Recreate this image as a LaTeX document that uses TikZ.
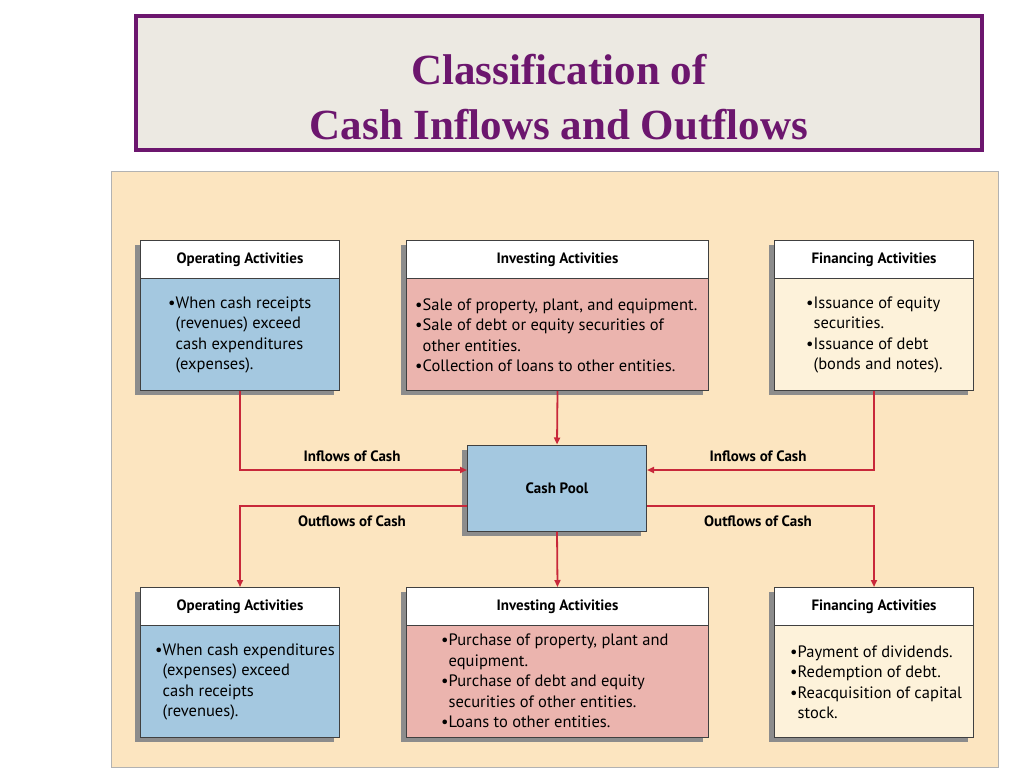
\documentclass[tikz,border=0pt]{standalone}
\usepackage{fontspec}
\setmainfont{Liberation Serif}
\newfontfamily\boxfont{PT Sans}
\usetikzlibrary{arrows.meta,calc}
\definecolor{titlePurple}{RGB}{108,22,110}
\definecolor{titleFill}{RGB}{236,233,226}
\definecolor{panelFill}{RGB}{252,229,192}
\definecolor{opBlue}{RGB}{164,200,224}
\definecolor{invPink}{RGB}{235,180,174}
\definecolor{finCream}{RGB}{253,242,218}
\definecolor{flowRed}{RGB}{200,40,58}
\tikzset{
    >={Triangle[length=7pt,width=6pt]},
    box/.style={draw=black!75,line width=1pt,inner sep=0pt},
    head/.style={font=\boxfont\bfseries\fontsize{15}{18}\selectfont},
    body/.style={anchor=west,align=left,inner sep=0pt,font=\boxfont\fontsize{16.5}{20.5}\selectfont},
    flow/.style={draw=flowRed,line width=1.8pt,->},
    flowlabel/.style={font=\boxfont\bfseries\fontsize{15}{18}\selectfont}
}
% activity box: name, x1, y1, x2, y2, header bottom, body fill, title
\newcommand{\actbox}[8]{
  \fill[black!45] (#2-5,#3+5) rectangle (#4-5,#5+5);
  \node[box,fill=white,minimum width=#4-#2,minimum height=#6-#3,anchor=north west] (#1h) at (#2,#3) {};
  \node[box,fill=#7,minimum width=#4-#2,minimum height=#5-#6,anchor=north west] (#1) at (#2,#6) {};
  \node[head] at (#1h) {#8};
}
\begin{document}
\begin{tikzpicture}[x=1pt,y=-1pt]
  \useasboundingbox (0,0) rectangle (1024,768);
  % title
  \node[draw=titlePurple,line width=4pt,fill=titleFill,minimum width=846pt,minimum height=134pt] (title) at (559,83) {};
  \node[text=titlePurple,font=\bfseries\fontsize{43}{55}\selectfont,align=center] at (559,97) {Classification of\\Cash Inflows and Outflows};
  % panel
  \node[draw=black!30,fill=panelFill,minimum width=887pt,minimum height=596pt,inner sep=0pt] (panel) at (554.5,469) {};

  \actbox{opT}{140}{240}{339}{390}{278}{opBlue}{Operating Activities}
  \actbox{invT}{406}{240}{708}{390}{278}{invPink}{Investing Activities}
  \actbox{finT}{774}{240}{973}{390}{278}{finCream}{Financing Activities}
  \actbox{opB}{140}{587}{339}{737}{625}{opBlue}{Operating Activities}
  \actbox{invB}{406}{587}{708}{737}{625}{invPink}{Investing Activities}
  \actbox{finB}{774}{587}{973}{737}{625}{finCream}{Financing Activities}

  \fill[black!45] (462,450) rectangle (641,536);
  \node[box,fill=opBlue,minimum width=179pt,minimum height=86pt] (pool) at (557,488) {};
  \node[head] at (pool) {Cash Pool};

  \node[body] at (168,335) {•When cash receipts\\\phantom{•}(revenues) exceed\\\phantom{•}cash expenditures\\\phantom{•}(expenses).};
  \node[body] at (415,335) {•Sale of property, plant, and equipment.\\•Sale of debt or equity securities of\\\phantom{•}other entities.\\•Collection of loans to other entities.};
  \node[body] at (806,335) {•Issuance of equity\\\phantom{•}securities.\\•Issuance of debt\\\phantom{•}(bonds and notes).};
  \node[body] at (155,682) {•When cash expenditures\\\phantom{•}(expenses) exceed\\\phantom{•}cash receipts\\\phantom{•}(revenues).};
  \node[body] at (441,681) {•Purchase of property, plant and\\\phantom{•}equipment.\\•Purchase of debt and equity\\\phantom{•}securities of other entities.\\•Loans to other entities.};
  \node[body] at (790,682) {•Payment of dividends.\\•Redemption of debt.\\•Reacquisition of capital\\\phantom{•}stock.};

  % flows
  \coordinate (inL) at ($(pool.west)+(0,-18)$);
  \coordinate (inR) at ($(pool.east)+(0,-18)$);
  \coordinate (outL) at ($(pool.west)+(0,18)$);
  \coordinate (outR) at ($(pool.east)+(0,18)$);
  \draw[flow] (opT.south) |- (inL);
  \draw[flow] (finT.south) |- (inR);
  \draw[flow] (invT.south) -- (pool.north);
  \draw[flow] (outL) -| (opBh.north);
  \draw[flow] (outR) -| (finBh.north);
  \draw[flow] (pool.south) -- (invBh.north);

  \node[flowlabel] at (352,456) {Inflows of Cash};
  \node[flowlabel] at (758,456) {Inflows of Cash};
  \node[flowlabel] at (352,521) {Outflows of Cash};
  \node[flowlabel] at (758,521) {Outflows of Cash};
\end{tikzpicture}
\end{document}
